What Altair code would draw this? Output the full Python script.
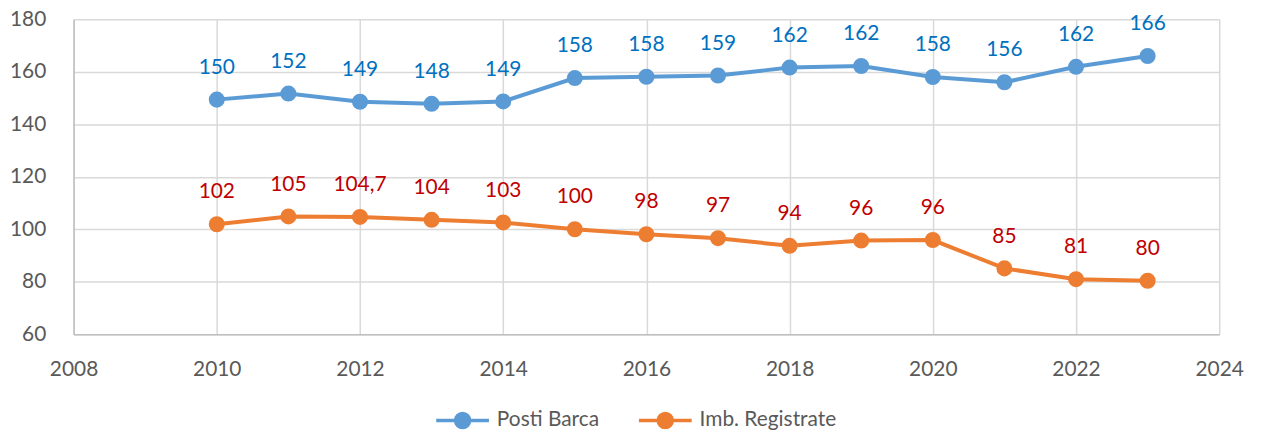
import altair as alt
import pandas as pd

years = list(range(2010, 2024))
posti_barca = [149.4, 151.7, 148.6, 147.8, 148.7, 157.6, 158.1, 158.6, 161.6, 162.2, 158.0, 156.0, 161.9, 166.0]
posti_labels = ["150", "152", "149", "148", "149", "158", "158", "159", "162", "162", "158", "156", "162", "166"]
imb_registrate = [101.9, 104.9, 104.7, 103.6, 102.6, 100.0, 98.1, 96.6, 93.7, 95.7, 95.9, 85.1, 81.0, 80.4]
imb_labels = ["102", "105", "104,7", "104", "103", "100", "98", "97", "94", "96", "96", "85", "81", "80"]
series = ["Posti Barca", "Imb. Registrate"]
line_colors = ["#5B9BD5", "#ED7D31"]
label_colors = ["#0070C0", "#C00000"]

rows = []
for y, v, l in zip(years, posti_barca, posti_labels):
    rows.append({"anno": y, "valore": v, "etichetta": l, "serie": series[0]})
for y, v, l in zip(years, imb_registrate, imb_labels):
    rows.append({"anno": y, "valore": v, "etichetta": l, "serie": series[1]})
df = pd.DataFrame(rows)

FONT = "Lato"

x = alt.X("anno:Q", scale=alt.Scale(domain=[2008, 2024], nice=False),
          axis=alt.Axis(values=list(range(2008, 2025, 2)), format="d", title=None,
                        grid=True, gridColor="#D9D9D9", gridWidth=1.5,
                        domainColor="#BFBFBF", domainWidth=1.5, ticks=False,
                        labelFlush=False, labelOverlap=False,
                        labelFontSize=21, labelColor="#595959", labelPadding=24, labelFont=FONT))
y = alt.Y("valore:Q", scale=alt.Scale(domain=[60, 180], nice=False, zero=False),
          axis=alt.Axis(values=list(range(60, 181, 20)), title=None,
                        grid=True, gridColor="#D9D9D9", gridWidth=1.5,
                        domainColor="#BFBFBF", domainWidth=1.5, ticks=False,
                        labelFlush=False, labelOverlap=False,
                        labelFontSize=21, labelColor="#595959", labelPadding=28, labelFont=FONT))

color_scale = alt.Scale(domain=series, range=line_colors)
legend = alt.Legend(title=None, orient="none", direction="horizontal",
                    legendX=372, legendY=384)

base = alt.Chart(df)

lines = base.mark_line(strokeWidth=4).encode(
    x=x, y=y,
    stroke=alt.Stroke("serie:N", scale=color_scale, legend=legend, sort=series),
    detail="serie:N",
)
points = base.mark_point(filled=True, size=200, opacity=1).encode(
    x=x, y=y,
    fill=alt.Fill("serie:N", scale=color_scale, legend=legend, sort=series),
    stroke=alt.Stroke("serie:N", scale=color_scale, legend=legend, sort=series),
)
texts = base.mark_text(dy=-32, fontSize=21, font=FONT, baseline="middle").encode(
    x=x, y=y, text="etichetta:N",
    color=alt.Color("serie:N", scale=alt.Scale(domain=series, range=label_colors), legend=None),
)

chart = alt.layer(lines, points, texts).resolve_scale(color="independent").properties(
    width=1153, height=317,
    autosize=alt.AutoSizeParams(type="none"),
    padding={"left": 66, "top": 10, "right": 35, "bottom": 98},
).configure_view(stroke=None).configure_legend(
    symbolType="M-1.5,0L1.5,0M0.4,0A0.4,0.4,0,1,1,-0.4,0A0.4,0.4,0,1,1,0.4,0Z",
    symbolSize=1252, symbolStrokeWidth=3.5,
    labelFontSize=21, labelColor="#595959", labelFont=FONT,
    labelOffset=15, columnPadding=32,
)

chart.save("out.html", embed_options={"renderer": "svg", "actions": False})
